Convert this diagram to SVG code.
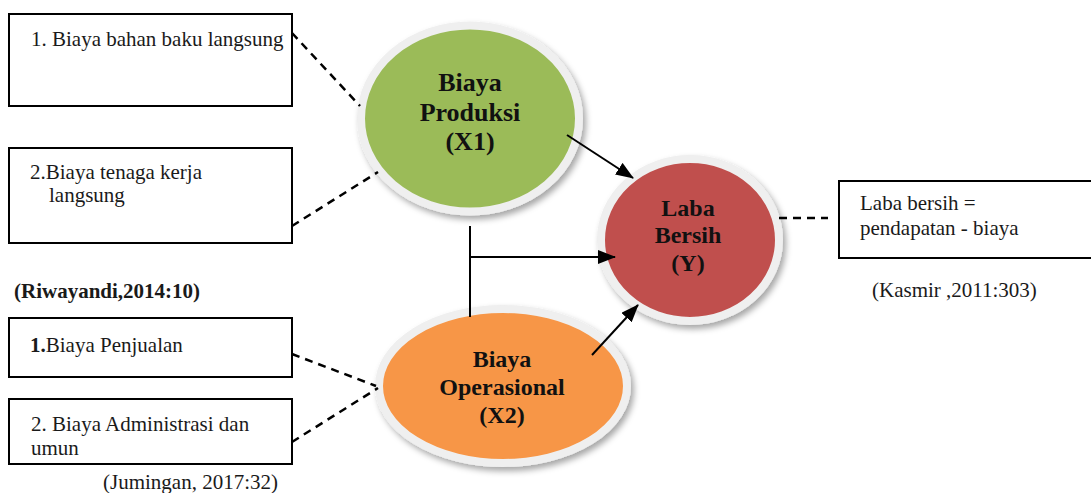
<svg xmlns="http://www.w3.org/2000/svg" width="1091" height="493" viewBox="0 0 1091 493">
<style>
.box{fill:#fff;stroke:#000;stroke-width:2}
.t{font-family:"Liberation Serif","Times New Roman",serif;font-size:21px;fill:#1a1a1a}
.b{font-weight:bold}
.nt{font-family:"Liberation Serif","Times New Roman",serif;font-size:24px;font-weight:bold;fill:#111;text-anchor:middle}
.big{font-size:26px}
.node{stroke:#efefef;stroke-width:8}
.dash{stroke:#000;stroke-width:2.5;stroke-dasharray:8 6;fill:none}
.ln{stroke:#000;stroke-width:2;fill:none}
.arr{stroke:#000;stroke-width:2;fill:none;marker-end:url(#ah)}
</style>
<defs>
<marker id="ah" viewBox="0 0 18 14" refX="17" refY="7" markerWidth="18" markerHeight="14" markerUnits="userSpaceOnUse" orient="auto">
<path d="M0,0 L18,7 L0,14 z" fill="#000"/>
</marker>
<filter id="sh" x="-20%" y="-20%" width="140%" height="140%">
<feDropShadow dx="3" dy="4" stdDeviation="3" flood-color="#000" flood-opacity="0.35"/>
</filter>
</defs>

<g id="box1">
<rect class="box" x="9" y="14" width="283" height="92"/>
<text class="t" x="31" y="46">1. Biaya bahan baku langsung</text>
</g>
<g id="box2">
<rect class="box" x="9" y="148" width="283" height="95"/>
<text class="t" x="30" y="179">2.Biaya tenaga kerja</text>
<text class="t" x="49" y="202">langsung</text>
</g>
<g id="ref1">
<text class="t b" x="14" y="298">(Riwayandi,2014:10)</text>
</g>
<g id="box3">
<rect class="box" x="9" y="318" width="283" height="59"/>
<text class="t" x="30" y="352"><tspan class="b">1.</tspan>Biaya Penjualan</text>
</g>
<g id="box4">
<rect class="box" x="9" y="399" width="283" height="65"/>
<text class="t" x="31" y="431">2. Biaya Administrasi dan</text>
<text class="t" x="31" y="455">umun</text>
</g>
<g id="ref2">
<text class="t" x="103" y="489">(Jumingan, 2017:32)</text>
</g>

<g id="x1">
<ellipse class="node" cx="470" cy="118.5" rx="109" ry="93" fill="#9BBB59" filter="url(#sh)"/>
<text class="nt big" x="470" y="91">Biaya</text>
<text class="nt big" x="470" y="121">Produksi</text>
<text class="nt big" x="470" y="150">(X1)</text>
</g>
<g id="x2">
<ellipse class="node" cx="503" cy="386" rx="124" ry="77" fill="#F79646" filter="url(#sh)"/>
<text class="nt" x="502" y="367">Biaya</text>
<text class="nt" x="502" y="395">Operasional</text>
<text class="nt" x="502" y="423">(X2)</text>
</g>
<g id="y">
<ellipse class="node" cx="690" cy="240" rx="89" ry="81" fill="#C0504D" filter="url(#sh)"/>
<text class="nt" x="688" y="216">Laba</text>
<text class="nt" x="688" y="243">Bersih</text>
<text class="nt" x="688" y="271">(Y)</text>
</g>

<g id="box5">
<rect class="box" x="839" y="181" width="260" height="77"/>
<text class="t" x="860" y="210">Laba bersih =</text>
<text class="t" x="860" y="235">pendapatan - biaya</text>
</g>
<g id="ref3">
<text class="t" x="872" y="297">(Kasmir ,2011:303)</text>
</g>

<g id="connectors">
<line class="dash" x1="292" y1="33" x2="360" y2="106"/>
<line class="dash" x1="292" y1="226" x2="378" y2="172"/>
<line class="dash" x1="292" y1="354" x2="376" y2="386"/>
<line class="dash" x1="292" y1="442" x2="378" y2="388"/>
<line class="dash" x1="779" y1="218" x2="828" y2="218"/>
<line class="ln" x1="470" y1="226" x2="470" y2="317"/>
<line class="arr" x1="470" y1="257" x2="615" y2="257"/>
<line class="arr" x1="567" y1="135" x2="633" y2="178"/>
<line class="arr" x1="592" y1="355" x2="638" y2="305"/>
</g>
</svg>
